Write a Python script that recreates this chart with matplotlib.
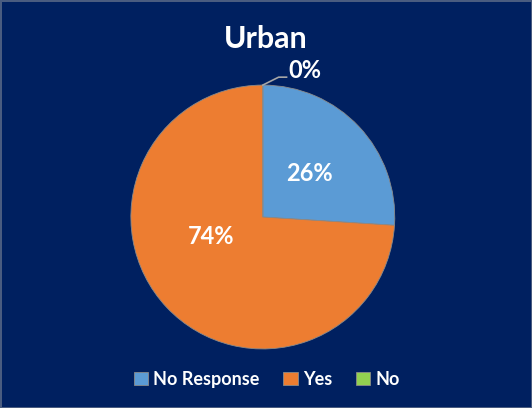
import matplotlib
matplotlib.use("Agg")
import matplotlib.pyplot as plt

# data
labels = ["No Response", "Yes", "No"]
shares = [26, 74, 0]
colors = ["#5B9BD5", "#ED7D31", "#92D050"]
title = "Urban"

bg = "#002060"
plt.rcParams['font.family'] = ['Lato', 'DejaVu Sans']

fig = plt.figure(figsize=(5.32, 4.08), dpi=100, facecolor=bg,
                 edgecolor="#4a5c80", linewidth=0.8)
ax = fig.add_axes([0.246, 0.1446, 0.496, 0.647])
ax.set_facecolor(bg)

wedges, texts, autotexts = ax.pie(
    shares, colors=colors, startangle=90, counterclock=False,
    autopct=lambda p: "%d%%" % round(p), pctdistance=0.48,
    wedgeprops=dict(linewidth=0.6, edgecolor="#8a8a8a"),
    textprops=dict(color="white", fontsize=17, fontweight="bold"))
ax.set_aspect("equal")
ax.set_xlim(-1, 1)
ax.set_ylim(-1, 1)

# Excel-style placement of the big slice label and the 0% callout
autotexts[1].set_position((-0.39, -0.15))
autotexts[2].set_position((0.32, 1.11))
autotexts[2].set_ha("center")
ax.plot([0, 0.12, 0.18], [1.0, 1.06, 1.06], color="#a6a6a6", lw=1.2, clip_on=False)

fig.text(0.5, 0.905, title, color="white", fontsize=22, fontweight="bold",
         ha="center", va="center")

leg = ax.legend(wedges, labels, loc="center", bbox_to_anchor=(0.515, -0.115),
                ncol=3, frameon=False, handlelength=0.8,
                handleheight=0.8, handletextpad=0.3, columnspacing=1.3,
                prop=dict(weight="bold", size=13))
for t in leg.get_texts():
    t.set_color("white")

fig.savefig("out.png", facecolor=bg, edgecolor=fig.get_edgecolor())
